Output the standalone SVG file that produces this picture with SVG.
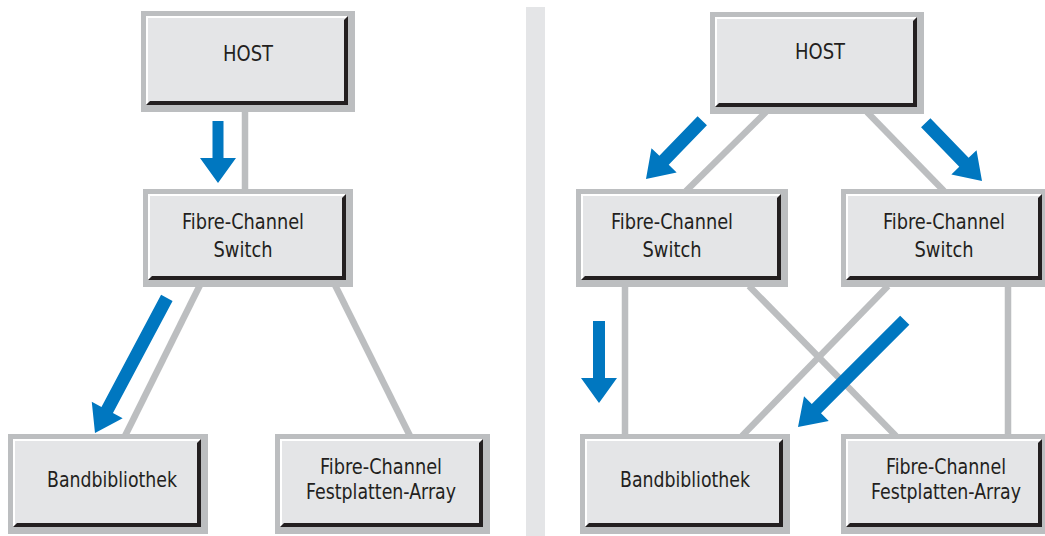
<svg xmlns="http://www.w3.org/2000/svg" width="1045" height="536" viewBox="0 0 1045 536">
<style>
.frame{fill:#bcbec0}
.face{fill:#e4e5e7}
.hl{fill:#ffffff}
.sh{fill:#231f20}
.lbl{font-family:"DejaVu Sans Condensed","DejaVu Sans",sans-serif;font-stretch:condensed;font-size:21px;fill:#231f20;text-anchor:middle}
.conn{stroke:#bcbec0;stroke-width:6.5;fill:none}
.arrow{fill:#0077c0}
</style>
<rect x="0" y="0" width="1045" height="536" fill="#ffffff"/>
<rect x="526" y="7" width="19" height="529" fill="#e4e5e7"/>
<g id="connectors">
<line class="conn" x1="245" y1="110" x2="245" y2="191"/>
<line class="conn" x1="200" y1="285" x2="125" y2="436"/>
<line class="conn" x1="335" y1="285" x2="410" y2="436"/>
<line class="conn" x1="766" y1="112" x2="686" y2="191"/>
<line class="conn" x1="867" y1="112" x2="944" y2="191"/>
<line class="conn" x1="625" y1="285" x2="625" y2="436"/>
<line class="conn" x1="749" y1="286" x2="896" y2="436"/>
<line class="conn" x1="888" y1="286" x2="742" y2="436"/>
<line class="conn" x1="1008" y1="285" x2="1008" y2="436"/>
</g>
<g id="arrows">
<path class="arrow" transform="translate(218,183)" d="M0,0 L-18,-25 L-5.5,-25 L-5.5,-62 L5.5,-62 L5.5,-25 L18,-25 Z"/>
<path class="arrow" transform="translate(95,433) rotate(28)" d="M0,0 L-17.5,-26 L-6.5,-26 L-6.5,-153 L6.5,-153 L6.5,-26 L17.5,-26 Z"/>
<path class="arrow" transform="translate(646,179) rotate(44)" d="M0,0 L-17.5,-26 L-6.5,-26 L-6.5,-81 L6.5,-81 L6.5,-26 L17.5,-26 Z"/>
<path class="arrow" transform="translate(982,181) rotate(-44)" d="M0,0 L-17.5,-26 L-6.5,-26 L-6.5,-81 L6.5,-81 L6.5,-26 L17.5,-26 Z"/>
<path class="arrow" transform="translate(599,403)" d="M0,0 L-18,-25 L-6,-25 L-6,-82 L6,-82 L6,-25 L18,-25 Z"/>
<path class="arrow" transform="translate(798,427) rotate(45)" d="M0,0 L-17.5,-26 L-6.5,-26 L-6.5,-151 L6.5,-151 L6.5,-26 L17.5,-26 Z"/>
</g>
<g id="host-left">
<rect class="frame" x="141" y="11" width="214" height="101"/>
<rect class="face" x="146" y="16" width="202" height="89"/>
<polygon class="hl" points="146,16 348,16 346,18 148,18 148,103 146,105"/>
<polygon class="sh" points="348,16 348,105 146,105 150,101 344,101 344,20"/>
<text class="lbl" x="248" y="61" textLength="50" lengthAdjust="spacingAndGlyphs">HOST</text>
</g>
<g id="switch-left">
<rect class="frame" x="143" y="189" width="210" height="98"/>
<rect class="face" x="148" y="194" width="198" height="86"/>
<polygon class="hl" points="148,194 346,194 344,196 150,196 150,278 148,280"/>
<polygon class="sh" points="346,194 346,280 148,280 152,276 342,276 342,198"/>
<text class="lbl" x="243" y="229" textLength="122" lengthAdjust="spacingAndGlyphs">Fibre-Channel</text>
<text class="lbl" x="243" y="257" textLength="59" lengthAdjust="spacingAndGlyphs">Switch</text>
</g>
<g id="tape-left">
<rect class="frame" x="8" y="434" width="200" height="100"/>
<rect class="face" x="13" y="439" width="188" height="88"/>
<polygon class="hl" points="13,439 201,439 199,441 15,441 15,525 13,527"/>
<polygon class="sh" points="201,439 201,527 13,527 17,523 197,523 197,443"/>
<text class="lbl" x="112" y="487" textLength="130" lengthAdjust="spacingAndGlyphs">Bandbibliothek</text>
</g>
<g id="array-left">
<rect class="frame" x="275" y="434" width="215" height="100"/>
<rect class="face" x="280" y="439" width="203" height="88"/>
<polygon class="hl" points="280,439 483,439 481,441 282,441 282,525 280,527"/>
<polygon class="sh" points="483,439 483,527 280,527 284,523 479,523 479,443"/>
<text class="lbl" x="381" y="474" textLength="122" lengthAdjust="spacingAndGlyphs">Fibre-Channel</text>
<text class="lbl" x="381" y="499" textLength="150" lengthAdjust="spacingAndGlyphs">Festplatten-Array</text>
</g>
<g id="host-right">
<rect class="frame" x="710" y="12" width="214" height="102"/>
<rect class="face" x="715" y="17" width="202" height="90"/>
<polygon class="hl" points="715,17 917,17 915,19 717,19 717,105 715,107"/>
<polygon class="sh" points="917,17 917,107 715,107 719,103 913,103 913,21"/>
<text class="lbl" x="820" y="59" textLength="50" lengthAdjust="spacingAndGlyphs">HOST</text>
</g>
<g id="switch-right-1">
<rect class="frame" x="576" y="189" width="212" height="98"/>
<rect class="face" x="581" y="194" width="200" height="86"/>
<polygon class="hl" points="581,194 781,194 779,196 583,196 583,278 581,280"/>
<polygon class="sh" points="781,194 781,280 581,280 585,276 777,276 777,198"/>
<text class="lbl" x="672" y="229" textLength="122" lengthAdjust="spacingAndGlyphs">Fibre-Channel</text>
<text class="lbl" x="672" y="257" textLength="59" lengthAdjust="spacingAndGlyphs">Switch</text>
</g>
<g id="switch-right-2">
<rect class="frame" x="841" y="189" width="208" height="98"/>
<rect class="face" x="846" y="194" width="196" height="86"/>
<polygon class="hl" points="846,194 1042,194 1040,196 848,196 848,278 846,280"/>
<polygon class="sh" points="1042,194 1042,280 846,280 850,276 1038,276 1038,198"/>
<text class="lbl" x="944" y="229" textLength="122" lengthAdjust="spacingAndGlyphs">Fibre-Channel</text>
<text class="lbl" x="944" y="257" textLength="59" lengthAdjust="spacingAndGlyphs">Switch</text>
</g>
<g id="tape-right">
<rect class="frame" x="580" y="434" width="210" height="100"/>
<rect class="face" x="585" y="439" width="198" height="88"/>
<polygon class="hl" points="585,439 783,439 781,441 587,441 587,525 585,527"/>
<polygon class="sh" points="783,439 783,527 585,527 589,523 779,523 779,443"/>
<text class="lbl" x="685" y="487" textLength="130" lengthAdjust="spacingAndGlyphs">Bandbibliothek</text>
</g>
<g id="array-right">
<rect class="frame" x="841" y="434" width="208" height="100"/>
<rect class="face" x="846" y="439" width="196" height="88"/>
<polygon class="hl" points="846,439 1042,439 1040,441 848,441 848,525 846,527"/>
<polygon class="sh" points="1042,439 1042,527 846,527 850,523 1038,523 1038,443"/>
<text class="lbl" x="946" y="474" textLength="120" lengthAdjust="spacingAndGlyphs">Fibre-Channel</text>
<text class="lbl" x="946" y="499" textLength="150" lengthAdjust="spacingAndGlyphs">Festplatten-Array</text>
</g>
</svg>
